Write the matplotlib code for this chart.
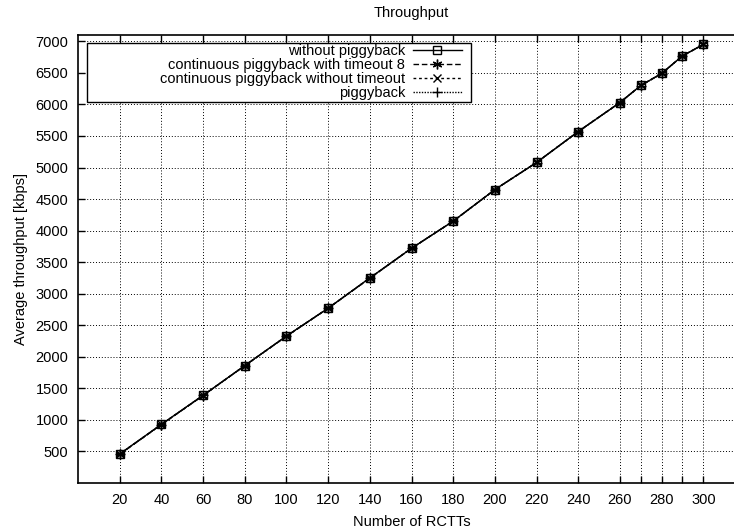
import matplotlib.pyplot as plt
from matplotlib.patches import Rectangle
import numpy as np

plt.rcParams['font.family'] = ['Liberation Sans', 'DejaVu Sans']

rctts = [20, 40, 60, 80, 100, 120, 140, 160, 180, 200, 220, 240, 260, 270, 280, 290, 300]
without_pb = [460, 930, 1390, 1860, 2330, 2770, 3250, 3720, 4150, 4650, 5080, 5570, 6030, 6300, 6490, 6770, 6950]
cont_pb_t8 = [455, 925, 1385, 1860, 2325, 2770, 3245, 3720, 4150, 4650, 5080, 5570, 6030, 6300, 6490, 6770, 6950]
cont_pb_no_t = [458, 928, 1388, 1860, 2328, 2770, 3248, 3720, 4150, 4650, 5080, 5570, 6030, 6300, 6490, 6770, 6950]
piggyback = [457, 927, 1387, 1858, 2327, 2768, 3247, 3718, 4148, 4648, 5078, 5568, 6028, 6298, 6488, 6768, 6948]

labels = ['without piggyback', 'continuous piggyback with timeout 8',
          'continuous piggyback without timeout', 'piggyback']
xticks = [20, 40, 60, 80, 100, 120, 140, 160, 180, 200, 220, 240, 260, 270, 280, 290, 300]
xticklabels = ['20', '40', '60', '80', '100', '120', '140', '160', '180', '200',
               '220', '240', '260', '', '280', '', '300']
yticks = np.arange(500, 7001, 500)

fs = 10.5
fig = plt.figure(figsize=(7.34, 5.31), dpi=100)
ax = fig.add_axes([78/734, 48/531, 667/734, 448/531])

ax.plot(rctts, without_pb, color='black', lw=1, ls='-', marker='s', ms=6,
        mfc='none', mec='black', label=labels[0])
ax.plot(rctts, cont_pb_t8, color='black', lw=1, ls=(0, (4, 2)), marker=(6, 2, 0), ms=7,
        label=labels[1])
ax.plot(rctts, cont_pb_no_t, color='black', lw=1, ls=(0, (2, 2)), marker='x', ms=6,
        label=labels[2])
ax.plot(rctts, piggyback, color='black', lw=1, ls=(0, (1, 1)), marker='+', ms=7,
        label=labels[3])

ax.set_xlim(0, 320)
ax.set_ylim(0, 7100)
ax.set_xticks(xticks)
ax.set_xticklabels(xticklabels)
ax.set_yticks(yticks)
ax.tick_params(direction='in', length=5, width=1, top=True, labelsize=fs, pad=7)
ax.grid(True, color='black', ls=(0, (1, 2)), lw=0.7)
for s in ax.spines.values():
    s.set_linewidth(1.2)

ax.set_xlabel('Number of RCTTs', fontsize=fs, labelpad=6)
ax.set_ylabel('Average throughput [kbps]', fontsize=fs, labelpad=5)
ax.set_title('Throughput', fontsize=fs, pad=13)

# gnuplot-style key box, wider than its contents
ax.add_patch(Rectangle((0.0135, 0.850), 0.5755, 0.132, transform=ax.transAxes,
                       facecolor='white', edgecolor='black', lw=1, zorder=4.5))
leg = ax.legend(loc='upper right', bbox_to_anchor=(0.576, 0.979), markerfirst=False,
                fontsize=fs, frameon=False, borderpad=0.0, labelspacing=0.0,
                handlelength=3.4, handletextpad=0.5, borderaxespad=0)
for t in leg.get_texts():
    t.set_ha('right')
leg._legend_box.align = 'right'

fig.savefig('out.png', dpi=100)
